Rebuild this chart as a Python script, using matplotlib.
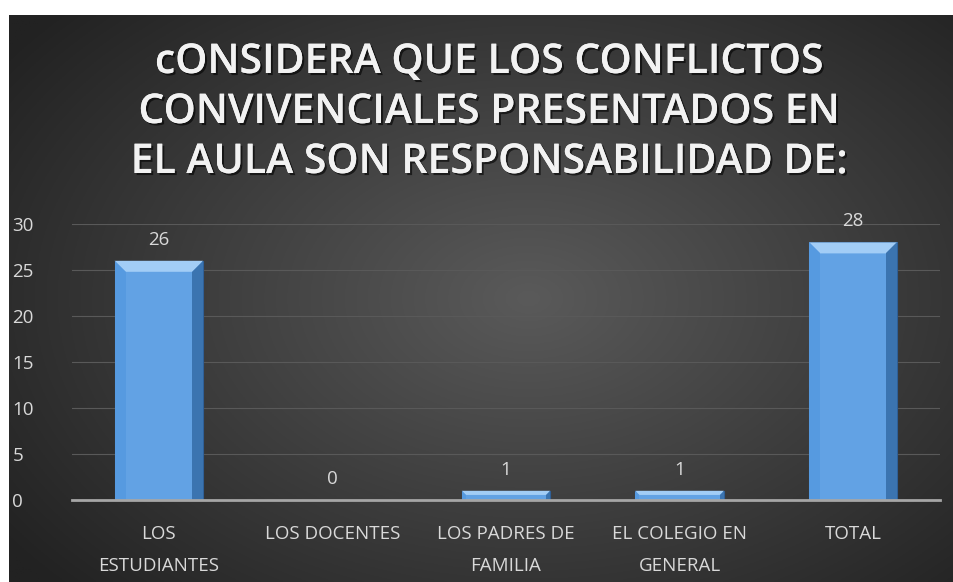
import numpy as np
import matplotlib.pyplot as plt
import matplotlib.patheffects as pe
from matplotlib.patches import Polygon

categorias = ["LOS\nESTUDIANTES", "LOS DOCENTES", "LOS PADRES DE\nFAMILIA", "EL COLEGIO EN\nGENERAL", "TOTAL"]
valores = [26, 0, 1, 1, 28]
titulo = "cONSIDERA QUE LOS CONFLICTOS\nCONVIVENCIALES PRESENTADOS EN\nEL AULA SON RESPONSABILIDAD DE:"

plt.rcParams['font.family'] = ['Open Sans', 'DejaVu Sans']

fig = plt.figure(figsize=(9.54, 5.82), dpi=100)
fig.patch.set_facecolor('white')

# fondo oscuro con degradado radial
bg = fig.add_axes([9/954, 0, 1 - 9/954, 1 - 15/582])
yy, xx = np.mgrid[0:1:300j, 0:1:500j]
r = np.sqrt(((xx - 0.55) * 1.1) ** 2 + ((yy - 0.5) * 1.0) ** 2)
r = np.clip(r / 0.75, 0, 1)
c_in = np.array([0x5a, 0x5a, 0x5a]) / 255
c_out = np.array([0x22, 0x22, 0x22]) / 255
img = c_in[None, None, :] * (1 - r[..., None]) + c_out[None, None, :] * r[..., None]
bg.imshow(img, aspect='auto', extent=[0, 1, 0, 1], origin='lower')
bg.axis('off')

fig.text(0.513, 1 - 112/582, titulo, ha='center', va='center', color='#f2f2f2',
         fontsize=29.5, fontweight='semibold', linespacing=1.25,
         path_effects=[pe.withSimplePatchShadow(offset=(1.5, -1.5), shadow_rgbFace='black', alpha=0.6),
                       pe.Normal()])

ax = fig.add_axes([72/954, 1 - 500/582, (940 - 72)/954, (500 - 224)/582])
ax.set_facecolor('none')
x = np.arange(len(categorias))
w = 0.51
ax.bar(x, valores, width=w, color='#62a2e4', edgecolor='#2f5f96', linewidth=0.8, zorder=3)

# biseles de las barras
unit_y = 30 / 276.0  # datos por pixel
unit_x = 5 / 868.0
for xi, v in zip(x, valores):
    if v > 0:
        left, right = xi - w / 2, xi + w / 2
        d = min(11 * unit_y, v * 0.45)
        dx = d / unit_y * unit_x
        top = Polygon([[left, v], [right, v], [right - dx, v - d], [left + dx, v - d]],
                      closed=True, facecolor='#a2cdf6', edgecolor='none', zorder=4)
        rside = Polygon([[right, v], [right, 0], [right - dx, 0], [right - dx, v - d]],
                        closed=True, facecolor='#3b74b0', edgecolor='none', zorder=4)
        lside = Polygon([[left, v], [left, 0], [left + dx, 0], [left + dx, v - d]],
                        closed=True, facecolor='#569ae0', edgecolor='none', zorder=4)
        ax.add_patch(top)
        ax.add_patch(rside)
        ax.add_patch(lside)
    ax.text(xi, v + 1.3, str(v), ha='center', va='bottom', color='#d9d9d9', fontsize=13.5, zorder=5)

ax.set_ylim(0, 30)
ax.set_xlim(-0.5, 4.5)
ax.set_yticks([0, 5, 10, 15, 20, 25, 30])
ax.yaxis.grid(True, color='#595959', linewidth=0.8, zorder=0)
ax.set_xticks(x)
ax.set_xticklabels(categorias, color='#d9d9d9', fontsize=13.5, linespacing=2.0)
ax.tick_params(axis='y', colors='#d9d9d9', labelsize=13.5, length=0, pad=43)
ax.tick_params(axis='x', length=0, pad=18)
for s in ['top', 'right', 'left']:
    ax.spines[s].set_visible(False)
ax.spines['bottom'].set_color('#a6a6a6')
ax.spines['bottom'].set_linewidth(2)
ax.spines['bottom'].set_zorder(6)
for lab in ax.get_yticklabels():
    lab.set_horizontalalignment('left')

fig.savefig('out.png', dpi=100, facecolor=fig.get_facecolor())
